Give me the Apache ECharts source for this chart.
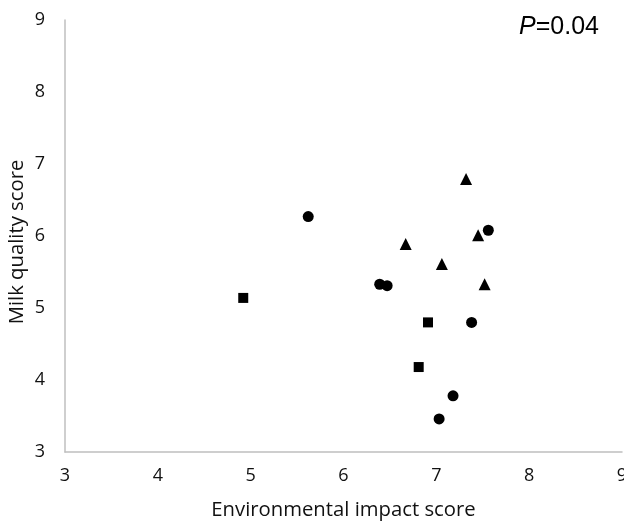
<!DOCTYPE html>
<html>
<head>
<meta charset="utf-8">
<script src="https://cdn.jsdelivr.net/npm/echarts@6/dist/echarts.min.js"></script>
<style>html,body{margin:0;padding:0;background:#fff}#c{width:624px;height:522px}</style>
</head>
<body>
<div id="c"></div>
<script>
const circlePoints = [[5.62, 6.27], [7.56, 6.08], [6.39, 5.33], [6.47, 5.31], [7.38, 4.80], [7.18, 3.78], [7.03, 3.46]];
const squarePoints = [[4.92, 5.14], [6.91, 4.80], [6.81, 4.18]];
const trianglePoints = [[7.32, 6.79], [7.45, 6.01], [6.67, 5.89], [7.06, 5.61], [7.52, 5.33]];
const xTitle = 'Environmental impact score';
const yTitle = 'Milk quality score';

const chart = echarts.init(document.getElementById('c'));
const font = '"Open Sans", "Noto Sans", sans-serif';
const pfont = '"Liberation Sans", Arial, sans-serif';
chart.setOption({
  animation: false,
  textStyle: { fontFamily: font },
  grid: { left: 65, right: 2, top: 20, bottom: 70, containLabel: false, outerBoundsMode: 'none' },
  title: {
    text: '{i|P}=0.04', right: 20, top: 10,
    textStyle: { fontSize: 25, fontWeight: 'normal', color: '#000', fontFamily: pfont,
      rich: { i: { fontStyle: 'italic', fontSize: 25, color: '#000', fontFamily: pfont } } }
  },
  xAxis: {
    type: 'value', min: 3, max: 9, interval: 1,
    name: xTitle, nameLocation: 'middle', nameGap: 48, nameMoveOverlap: false,
    nameTextStyle: { fontSize: 20.3, color: '#111', fontFamily: font },
    axisLine: { show: true, lineStyle: { color: '#bfbfbf', width: 1.5 } },
    axisTick: { show: false },
    splitLine: { show: false },
    axisLabel: { fontSize: 18, color: '#111', margin: 15, fontFamily: font }
  },
  yAxis: {
    type: 'value', min: 3, max: 9, interval: 1,
    name: yTitle, nameLocation: 'middle', nameGap: 38, nameMoveOverlap: false,
    nameTextStyle: { fontSize: 20.3, color: '#111', fontFamily: font, padding: [0, 12, 0, 0] },
    axisLine: { show: true, lineStyle: { color: '#bfbfbf', width: 1.5 } },
    axisTick: { show: false },
    splitLine: { show: false },
    axisLabel: { fontSize: 18, color: '#111', margin: 20, fontFamily: font }
  },
  series: [
    { type: 'scatter', data: circlePoints, symbol: 'circle', symbolSize: 11, itemStyle: { color: '#000', opacity: 1 } },
    { type: 'scatter', data: squarePoints, symbol: 'rect', symbolSize: 10, itemStyle: { color: '#000', opacity: 1 } },
    { type: 'scatter', data: trianglePoints, symbol: 'triangle', symbolSize: 12, itemStyle: { color: '#000', opacity: 1 } }
  ]
});
</script>
</body>
</html>
